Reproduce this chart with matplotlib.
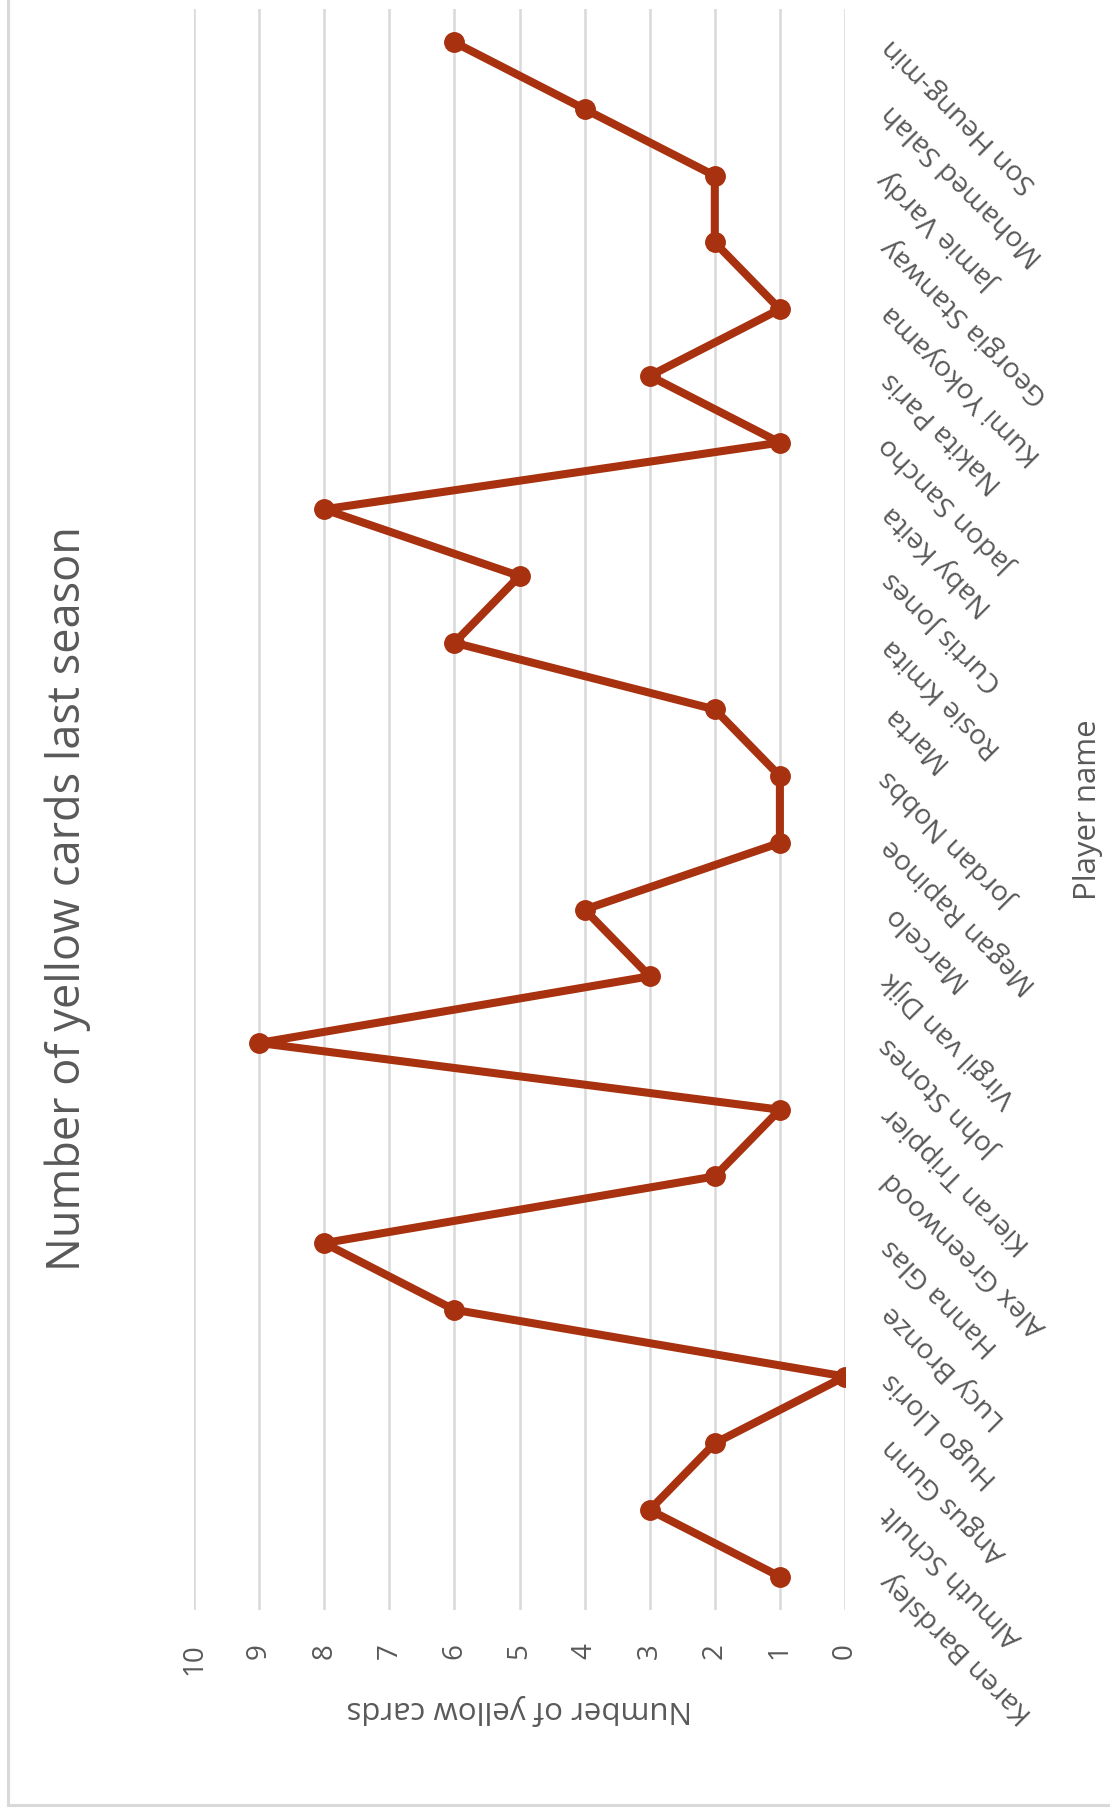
import matplotlib
matplotlib.use('Agg')
import matplotlib.pyplot as plt
from matplotlib.lines import Line2D

plt.rcParams['font.family'] = ['Open Sans', 'DejaVu Sans']

# 数据：从下到上（Karen Bardsley 在最下面）
players = ['Karen Bardsley', 'Almuth Schult', 'Angus Gunn', 'Hugo Lloris',
           'Lucy Bronze', 'Hanna Glas', 'Alex Greenwood', 'Kieran Trippier',
           'John Stones', 'Virgil van Dijk', 'Marcelo', 'Megan Rapinoe',
           'Jordan Nobbs', 'Marta', 'Rosie Kmita', 'Curtis Jones',
           'Naby Keita', 'Jadon Sancho', 'Nakita Paris', 'Kumi Yokoyama',
           'Georgia Stanway', 'Jamie Vardy', 'Mohamed Salah', 'Son Heung-min']
yellow_cards = [1, 3, 2, 0, 6, 8, 2, 1, 9, 3, 4, 1,
                1, 2, 6, 5, 8, 1, 3, 1, 2, 2, 4, 6]
value_ticks = list(range(0, 11))

W, H = 1110, 1814
text_col = '#595959'
grid_col = '#D9D9D9'
line_col = '#A8310F'

fig = plt.figure(figsize=(W / 100, H / 100), dpi=100)
ax = fig.add_axes([194 / W, 1 - 1610 / H, (845 - 194) / W, (1610 - 9) / H])

pos = list(range(len(players)))
ax.plot(yellow_cards, pos, color=line_col, linewidth=5.8,
        marker='o', markersize=14, solid_joinstyle='round', zorder=3)

ax.set_xlim(10, 0)
ax.set_ylim(-0.5, len(players) - 0.5)
ax.set_xticks(value_ticks)
ax.set_xticklabels([str(v) for v in value_ticks], rotation=90,
                   fontsize=20, color=text_col)
ax.grid(axis='x', color=grid_col, linewidth=1.8)
ax.set_axisbelow(True)
for s in ax.spines.values():
    s.set_visible(False)
ax.tick_params(axis='x', length=0, pad=24)

# 类别标签在右侧，旋转显示
ax.set_yticks(pos)
ax.yaxis.tick_right()
ax.set_yticklabels(players, rotation=135, ha='right', va='center',
                   rotation_mode='anchor', fontsize=20.5, color=text_col)
ax.tick_params(axis='y', length=0, pad=30)

# 标题和轴标题
fig.text(68 / W, 1 - 899 / H, 'Number of yellow cards last season',
         rotation=90, ha='center', va='center', fontsize=32.5, color=text_col)
fig.text(519 / W, 1 - 1710 / H, 'Number of yellow cards',
         rotation=180, ha='center', va='center', fontsize=22.5, color=text_col)
fig.text(1088 / W, 1 - 810 / H, 'Player name',
         rotation=90, ha='center', va='center', fontsize=22.5, color=text_col)

# 图表外框（左边和下边）
fig.add_artist(Line2D([8 / W, 8 / W], [1 - 1805 / H, 1.0],
                      transform=fig.transFigure, color=grid_col, linewidth=2.2))
fig.add_artist(Line2D([8 / W, 1.0], [1 - 1805 / H, 1 - 1805 / H],
                      transform=fig.transFigure, color=grid_col, linewidth=2.2))

fig.savefig('out.png', dpi=100, facecolor='white')
